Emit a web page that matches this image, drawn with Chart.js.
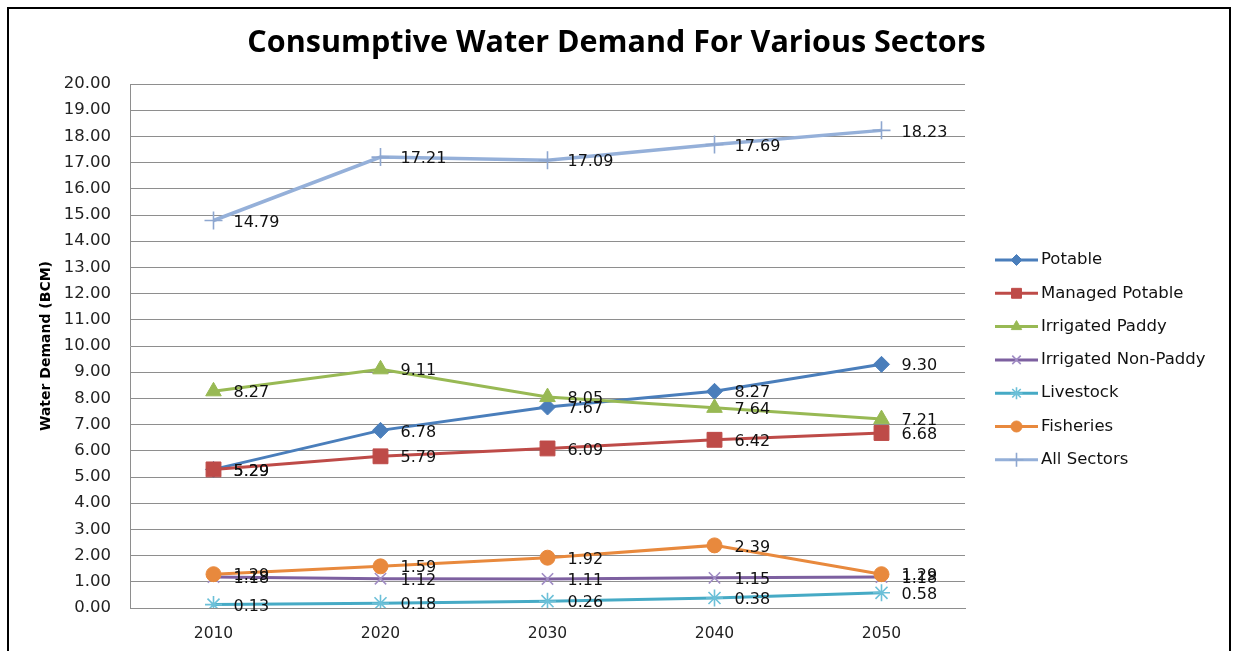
<!DOCTYPE html>
<html>
<head>
<meta charset="utf-8">
<script src="https://cdn.jsdelivr.net/npm/chart.js@4"></script>
<style>
  html, body { margin: 0; padding: 0; background: #fff; overflow: hidden; }
  #wrap { position: relative; width: 1233px; height: 651px; }
  #frame { position: absolute; left: 7px; top: 7px; width: 1224px; height: 700px; border: 2px solid #000; box-sizing: border-box; }
  canvas { position: absolute; left: 0; top: 0; }
</style>
</head>
<body>
<div id="wrap">
  <canvas id="chart" width="1233" height="651"></canvas>
  <div id="frame"></div>
</div>
<script>
// Chart data
const years = ['2010', '2020', '2030', '2040', '2050'];
const potable = [5.29, 6.78, 7.67, 8.27, 9.30];
const managedPotable = [5.29, 5.79, 6.09, 6.42, 6.68];
const irrigatedPaddy = [8.27, 9.11, 8.05, 7.64, 7.21];
const irrigatedNonPaddy = [1.18, 1.12, 1.11, 1.15, 1.18];
const livestock = [0.13, 0.18, 0.26, 0.38, 0.58];
const fisheries = [1.29, 1.59, 1.92, 2.39, 1.29];
const allSectors = [14.79, 17.21, 17.09, 17.69, 18.23];

const seriesNames = ['Potable', 'Managed Potable', 'Irrigated Paddy', 'Irrigated Non-Paddy', 'Livestock', 'Fisheries', 'All Sectors'];
const seriesValues = [potable, managedPotable, irrigatedPaddy, irrigatedNonPaddy, livestock, fisheries, allSectors];
const yTicks = [0, 20, 1]; // min, max, step

// styles per series
const lineColors = ['#4A7EBB', '#BE4B48', '#98B954', '#7D60A0', '#46AAC5', '#E8893D', '#95B0D9'];
const markerColors = ['#4A7EBB', '#BE4B48', '#98B954', '#A08CC4', '#6CC0D8', '#E8893D', '#8EA7D0'];
const markerStyles = ['rectRot', 'rect', 'triangle', 'crossRot', 'star', 'circle', 'cross'];
const markerSizes = [8, 10.5, 9, 8, 8.5, 7.5, 9];
const legendSizes = [5.5, 7, 6, 6, 6, 5.5, 7];

const datasets = seriesNames.map(function(name, i) {
    const stroked = ['crossRot', 'star', 'cross'].indexOf(markerStyles[i]) >= 0;
    return {
        label: name,
        data: seriesValues[i],
        borderColor: lineColors[i],
        borderWidth: i === 6 ? 3.5 : 3,
        tension: 0,
        fill: false,
        pointStyle: markerStyles[i],
        pointRadius: markerSizes[i],
        pointBackgroundColor: markerColors[i],
        pointBorderColor: markerColors[i],
        pointBorderWidth: stroked ? 1.6 : 1,
        order: seriesNames.length - i
    };
});

// data labels to the right of each point
const valueLabels = {
    id: 'valueLabels',
    afterDatasetsDraw(chart) {
        const ctx = chart.ctx;
        ctx.save();
        ctx.font = '16px "DejaVu Sans"';
        ctx.fillStyle = '#111';
        ctx.textAlign = 'left';
        ctx.textBaseline = 'middle';
        chart.data.datasets.forEach(function(ds, i) {
            const meta = chart.getDatasetMeta(i);
            meta.data.forEach(function(pt, j) {
                ctx.fillText(ds.data[j].toFixed(2), pt.x + 20, pt.y + 2);
            });
        });
        ctx.restore();
    }
};

// excel-style legend with line + marker
const sideLegend = {
    id: 'sideLegend',
    afterDraw(chart) {
        const ctx = chart.ctx;
        const x0 = 995, x1 = 1038, top = 260, step = 33.3;
        ctx.save();
        chart.data.datasets.forEach(function(ds, i) {
            const y = top + i * step;
            ctx.strokeStyle = lineColors[i];
            ctx.lineWidth = 3;
            ctx.beginPath();
            ctx.moveTo(x0, y);
            ctx.lineTo(x1, y);
            ctx.stroke();
            ctx.fillStyle = markerColors[i];
            ctx.strokeStyle = markerColors[i];
            ctx.lineWidth = ds.pointBorderWidth;
            Chart.helpers.drawPoint(ctx, { pointStyle: markerStyles[i], radius: legendSizes[i], rotation: 0, borderWidth: ds.pointBorderWidth }, (x0 + x1) / 2, y);
            ctx.fillStyle = '#111';
            ctx.font = '16.5px "DejaVu Sans"';
            ctx.textAlign = 'left';
            ctx.textBaseline = 'middle';
            ctx.fillText(ds.label, 1041, y);
        });
        ctx.restore();
    }
};

const chart = new Chart(document.getElementById('chart').getContext('2d'), {
    type: 'line',
    data: { labels: years, datasets: datasets },
    plugins: [valueLabels, sideLegend],
    options: {
        responsive: false,
        animation: false,
        layout: { padding: 0 },
        plugins: {
            legend: { display: false },
            tooltip: { enabled: false },
            title: {
                display: true,
                text: 'Consumptive Water Demand For Various Sectors',
                color: '#000',
                font: { family: '"Open Sans"', size: 30.5, weight: 'bold' },
                padding: { top: 25, bottom: 22.4 }
            }
        },
        scales: {
            x: {
                offset: true,
                grid: { display: false, drawTicks: false },
                border: { display: true, color: '#8e8e8e' },
                ticks: { color: '#222', padding: 17, font: { family: '"DejaVu Sans"', size: 15.5 } },
                afterFit: function(scale) { scale.height = 43; }
            },
            y: {
                min: yTicks[0],
                max: yTicks[1],
                grid: { color: '#8e8e8e', drawTicks: false },
                border: { display: true, color: '#8e8e8e' },
                ticks: {
                    stepSize: yTicks[2],
                    color: '#222',
                    padding: 19,
                    font: { family: '"DejaVu Sans"', size: 16.5 },
                    callback: function(v) { return v.toFixed(2); }
                },
                title: {
                    display: true,
                    text: 'Water Demand (BCM)',
                    color: '#000',
                    font: { family: '"DejaVu Sans"', size: 14, weight: 'bold' },
                    padding: { top: 38, bottom: 0 }
                },
                afterFit: function(scale) { scale.width = 130; }
            },
            // empty right-hand box that reserves room for the legend
            legendSpace: {
                type: 'linear',
                position: 'right',
                grid: { display: false, drawTicks: false },
                border: { display: false },
                ticks: { display: false },
                afterFit: function(scale) { scale.width = 268; }
            }
        }
    }
});
</script>
</body>
</html>
